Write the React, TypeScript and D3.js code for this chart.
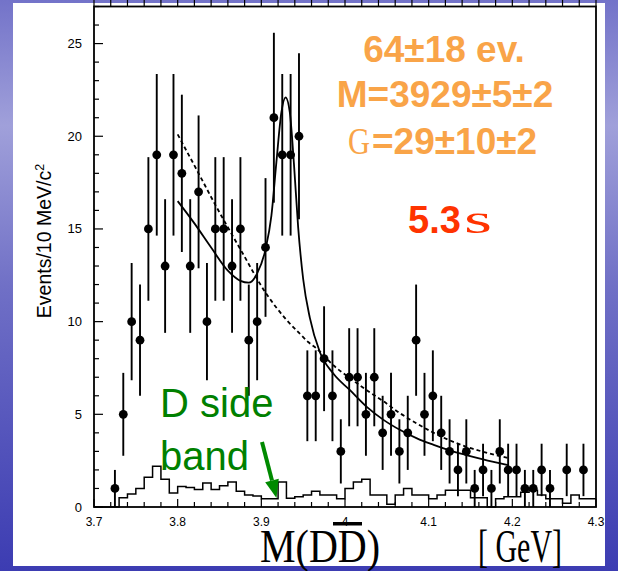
import React from "react";
import * as d3 from "d3";

// ---- data ----
const binCenters: number[] = [
  3.705, 3.715, 3.725, 3.735, 3.745, 3.755, 3.765, 3.775, 3.785, 3.795,
  3.805, 3.815, 3.825, 3.835, 3.845, 3.855, 3.865, 3.875, 3.885, 3.895,
  3.905, 3.915, 3.925, 3.935, 3.945, 3.955, 3.965, 3.975, 3.985, 3.995,
  4.005, 4.015, 4.025, 4.035, 4.045, 4.055, 4.065, 4.075, 4.085, 4.095,
  4.105, 4.115, 4.125, 4.135, 4.145, 4.155, 4.165, 4.175, 4.185, 4.195,
  4.205, 4.215, 4.225, 4.235, 4.245, 4.255, 4.265, 4.275, 4.285, 4.295,
];
const eventCounts: number[] = [
  0, 0, 1, 5, 10, 9, 15, 19, 13, 19,
  18, 13, 17, 10, 15, 15, 13, 15, 9, 10,
  14, 21, 19, 19, 20, 6, 6, 8, 6, 3,
  7, 7, 5, 7, 4, 5, 3, 4, 9, 5,
  6, 4, 3, 2, 3, 1, 2, 1, 3, 2,
  2, 1, 1, 2, 1, 0, 2, 0, 2, 0,
];
const sideBand: number[] = [
  0, 0, 0, 0.5, 0.7, 1.0, 1.6, 2.2, 1.5, 0.75,
  1.1, 1.05, 0.95, 1.3, 0.95, 1.15, 1.35, 0.85, 0.65, 0.6,
  0.45, 0.45, 1.35, 0.47, 0.55, 0.65, 0.85, 0.65, 0.65, 0.45,
  1.0, 1.35, 1.5, 0.65, 0.65, 0.15, 0.65, 1.0, 0.65, 0.65,
  0.45, 0.65, 0.9, 0.9, 0.9, 0.5, 0.5, 0, 0.45, 0.55,
  0.55, 0.8, 0.9, 0.65, 0.45, 0.45, 0.2, 0.65, 0.45, 0.45,
];
const fitMass: number[] = [
  3.8, 3.82, 3.84, 3.86, 3.875, 3.885, 3.895, 3.905, 3.912, 3.918,
  3.924, 3.929, 3.934, 3.939, 3.944, 3.95, 3.958, 3.97, 3.986, 4.006,
  4.026, 4.046, 4.066, 4.086, 4.106, 4.125, 4.145, 4.165, 4.195,
];
const fitValue: number[] = [
  16.5, 15.3, 14.0, 12.75, 12.2, 12.1, 12.6, 13.9, 15.7, 18.6,
  21.3, 22.1, 21.3, 18.5, 15.1, 12.3, 10.2, 8.35, 7.2, 6.3,
  5.4, 4.7, 4.15, 3.7, 3.35, 3.05, 2.8, 2.57, 2.26,
];
const bkgMass: number[] = [
  3.8, 3.825, 3.845, 3.875, 3.906, 3.93, 3.946, 3.956, 3.966, 3.986,
  4.006, 4.026, 4.046, 4.066, 4.086, 4.106, 4.125, 4.145, 4.165, 4.197,
];
const bkgValue: number[] = [
  20.1, 18.0, 16.3, 13.9, 11.5, 10.1, 9.35, 8.9, 8.55, 7.65,
  6.95, 6.3, 5.7, 5.05, 4.5, 4.0, 3.6, 3.25, 2.98, 2.62,
];
const xTickLabels: string[] = ["3.7", "3.8", "3.9", "4", "4.1", "4.2", "4.3"];
const xTickValues: number[] = [3.7, 3.8, 3.9, 4.0, 4.1, 4.2, 4.3];
const yTickValues: number[] = [0, 5, 10, 15, 20, 25];
const yTickLabels: string[] = ["0", "5", "10", "15", "20", "25"];

const W = 618;
const H = 571;
const ORANGE = "#F9A448";
const RED = "#FF3300";
const GREEN = "#008000";

export default function App() {
  const x = d3.scaleLinear().domain([3.7, 4.3]).range([94, 596]);
  const y = d3.scaleLinear().domain([0, 27]).range([507, 6.5]);

  const minorX = d3.range(0, 31).map((i) => 3.7 + i * 0.02);
  const minorY = d3.range(0, 28);

  const histPts: [number, number][] = sideBand.map((v, i) => [3.7 + i * 0.01, v]);
  histPts.push([4.3, sideBand[sideBand.length - 1]]);
  const histPath = d3
    .line<[number, number]>()
    .x((d) => x(d[0]))
    .y((d) => y(d[1]))
    .curve(d3.curveStepAfter)(histPts);

  const curveGen = d3
    .line<[number, number]>()
    .x((d) => x(d[0]))
    .y((d) => y(d[1]))
    .curve(d3.curveMonotoneX);
  const fitPath = curveGen(fitMass.map((m, i) => [m, fitValue[i]]));
  const bkgPath = curveGen(bkgMass.map((m, i) => [m, bkgValue[i]]));

  const pts = binCenters
    .map((m, i) => ({ m, n: eventCounts[i] }))
    .filter((d) => d.n > 0);

  const font = "Arial, 'Liberation Sans', Helvetica, sans-serif";
  const serif = "'Liberation Serif', 'Times New Roman', serif";

  // arrow geometry
  const ax0 = 262, ay0 = 442, ax1 = 276.5, ay1 = 498;
  const len = Math.hypot(ax1 - ax0, ay1 - ay0);
  const ux = (ax1 - ax0) / len, uy = (ay1 - ay0) / len;
  const bx = ax1 - ux * 18, by = ay1 - uy * 18;
  const px = -uy, py = ux;

  return (
    <svg
      width={W}
      height={H}
      style={{ position: "fixed", left: 0, top: 0, display: "block" }}
      xmlns="http://www.w3.org/2000/svg"
    >
      <defs>
        <linearGradient id="bg" x1="0" y1="0" x2="0" y2="1">
          <stop offset="0" stopColor="#7373c9" />
          <stop offset="0.22" stopColor="#a0a0da" />
          <stop offset="0.5" stopColor="#7070c6" />
          <stop offset="1" stopColor="#3c3cb2" />
        </linearGradient>
      </defs>
      <rect x={0} y={0} width={W} height={H} fill="url(#bg)" />
      <rect x={13} y={3} width={592} height={563} fill="#ffffff" />

      {/* side band histogram */}
      <path d={histPath || ""} fill="none" stroke="#000" strokeWidth={1.5} />

      {/* fits */}
      <path d={bkgPath || ""} fill="none" stroke="#000" strokeWidth={1.8} strokeDasharray="4,3" />
      <path d={fitPath || ""} fill="none" stroke="#000" strokeWidth={1.8} />

      {/* error bars and points */}
      {pts.map((d, i) => (
        <g key={i}>
          <line
            x1={x(d.m)}
            x2={x(d.m)}
            y1={y(d.n + Math.sqrt(d.n))}
            y2={y(Math.max(0, d.n - Math.sqrt(d.n)))}
            stroke="#000"
            strokeWidth={1.9}
          />
          <circle cx={x(d.m)} cy={y(d.n)} r={4.4} fill="#000" />
        </g>
      ))}

      {/* frame */}
      <rect x={94} y={6.5} width={502} height={500.5} fill="none" stroke="#000" strokeWidth={1.8} />

      {/* x ticks */}
      {minorX.map((v, i) => {
        const major = i % 5 === 0;
        return (
          <g key={"xt" + i}>
            <line x1={x(v)} x2={x(v)} y1={y(0)} y2={y(0) - (major ? 8 : 5)} stroke="#000" strokeWidth={1.2} />
            <line x1={x(v)} x2={x(v)} y1={y(27)} y2={0} stroke="#000" strokeWidth={1.2} />
          </g>
        );
      })}
      {/* y ticks */}
      {minorY.map((v) => {
        const major = v % 5 === 0;
        return (
          <line key={"yt" + v} x1={x(3.7)} x2={x(3.7) + (major ? 9 : 5)} y1={y(v)} y2={y(v)} stroke="#000" strokeWidth={1.2} />
        );
      })}
      {xTickValues.map((v, i) => (
        <text key={"xl" + i} x={x(v)} y={526} textAnchor="middle" fontFamily={font} fontSize={12} fill="#000">
          {xTickLabels[i]}
        </text>
      ))}
      {yTickValues.map((v, i) => (
        <text key={"yl" + i} x={82} y={y(v) + 4.5} textAnchor="end" fontFamily={font} fontSize={13} fill="#000">
          {yTickLabels[i]}
        </text>
      ))}

      {/* y axis title */}
      <text
        transform="translate(51,241) rotate(-90)"
        textAnchor="middle"
        fontFamily={font}
        fontSize={19.5}
        fill="#000"
      >
        Events/10 MeV/c<tspan dy={-7} fontSize={12.5}>2</tspan>
      </text>

      {/* x axis title */}
      <text x={260} y={562} fontFamily={serif} fontSize={47} textLength={120} lengthAdjust="spacingAndGlyphs" fill="#000">
        M(DD)
      </text>
      <rect x={333} y={522} width={29} height={3.5} fill="#000" />
      <text x={478} y={562} fontFamily={serif} fontSize={47} textLength={84} lengthAdjust="spacingAndGlyphs" fill="#000">
        [ GeV]
      </text>

      {/* fit results */}
      <text x={444} y={62} textAnchor="middle" fontFamily={font} fontWeight="bold" fontSize={37} fill={ORANGE}>
        64±18 ev.
      </text>
      <text x={445} y={107} textAnchor="middle" fontFamily={font} fontWeight="bold" fontSize={37} fill={ORANGE}>
        M=3929±5±2
      </text>
      <text x={348} y={154} fontFamily={serif} fontSize={38} textLength={22} lengthAdjust="spacingAndGlyphs" fill={ORANGE}>
        G
      </text>
      <text x={372} y={154} fontFamily={font} fontWeight="bold" fontSize={37} fill={ORANGE}>
        =29±10±2
      </text>
      <text x={408} y={233} fontFamily={font} fontWeight="bold" fontSize={38} fill={RED}>
        5.3
      </text>
      <text x={464} y={233} fontFamily={serif} fontSize={40} textLength={28} lengthAdjust="spacingAndGlyphs" fill={RED}>
        s
      </text>

      {/* D side band label */}
      <text x={160} y={417} fontFamily={font} fontSize={40} fill={GREEN}>
        D side
      </text>
      <text x={160} y={470} fontFamily={font} fontSize={40} fill={GREEN}>
        band
      </text>
      <line x1={ax0} y1={ay0} x2={bx} y2={by} stroke="#008a00" strokeWidth={4} />
      <polygon
        points={`${ax1},${ay1} ${bx + px * 7},${by + py * 7} ${bx - px * 7},${by - py * 7}`}
        fill="#008a00"
      />
    </svg>
  );
}
